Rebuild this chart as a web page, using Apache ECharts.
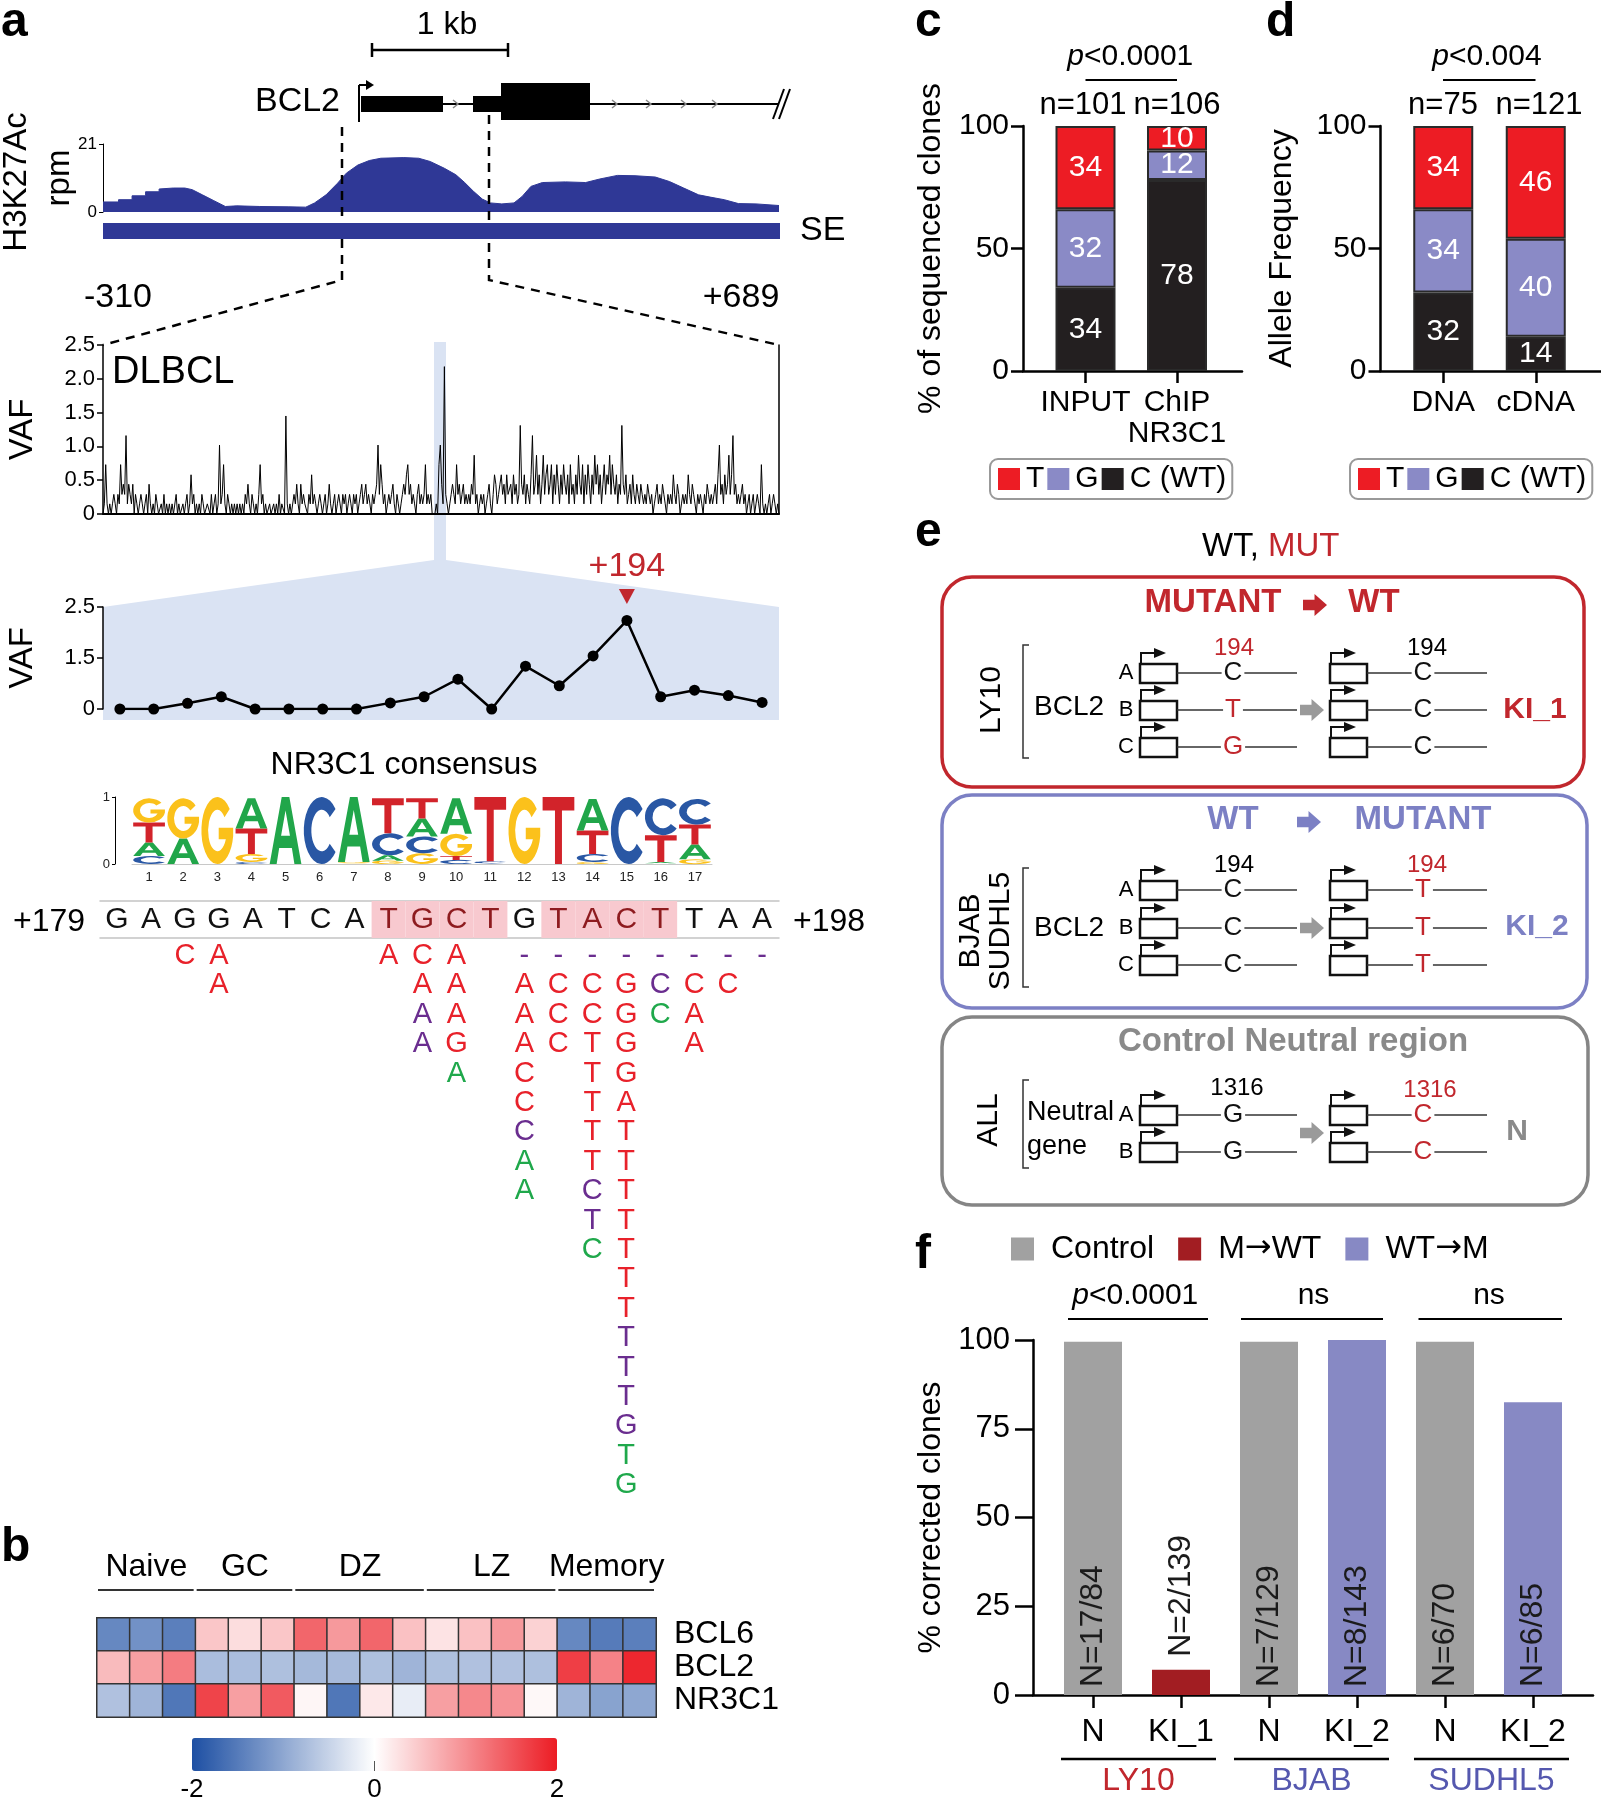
<!DOCTYPE html>
<html>
<head>
<meta charset="utf-8">
<script src="https://cdn.jsdelivr.net/npm/echarts@6.0.0/dist/echarts.min.js"></script>
<style>
html,body{margin:0;padding:0;background:#ffffff;}
#chart{width:1601px;height:1800px;}
</style>
</head>
<body>
<div id="chart"></div>
<script>
// ===================== DATA =====================
// Panel a – H3K27Ac track (relative position 0..1000 across the locus, rpm)
const h3kPos = [0,23,23,43,43,63,63,83,83,104,121,132,147,164,181,198,232,275,300,313,330,347,360,377,394,411,445,467,484,505,522,535,548,561,573,590,608,620,633,650,684,714,735,761,787,817,838,859,881,898,919,940,966,1000];
const h3kVal = [3.1,3.1,3.8,3.8,5.0,5.0,6.25,6.25,7.1,7.4,7.4,6.9,5.3,3.5,1.7,1.9,1.7,1.6,1.5,2.8,5.3,8.9,12,14.5,15.9,16.6,16.8,16.6,15.6,13.5,11.5,9.1,6.4,4.0,2.8,2.5,2.8,4.8,7.9,9.1,9.3,9.1,10.2,11.3,11.2,10.8,9.4,7.4,5.3,4.6,3.8,2.6,2.5,2.0];

// Panel a – DLBCL VAF profile, -310 .. +688 (2 bp steps)
const dlbclVaf = [
0,.15,.73,.15,0,.15,0,.15,.29,.15, 0,.29,.15,.73,.29,.44,.29,1.16,.15,.44, .29,.15,.44,0,.29,.15,0,.15,.29,.15, 0,.15,.29,0,.44,.15,0,.15,0,.29, .15,0,0,.15,0,.29,0,.15,0,.15,
0,.15,0,0,.29,0,.15,0,0,.15, 0,.15,.29,0,.15,.58,.15,.29,0,.15, 0,.15,0,.29,.15,0,0,.15,.15,0, .29,0,.15,.29,0,.15,1.02,.15,.29,.73, .15,0,.29,.15,0,.15,0,.15,0,.15,
0,.15,0,.15,0,.29,.15,.44,.15,0, .29,.15,0,.15,0,.29,.73,.15,.29,0, .15,0,0,.15,0,0,.15,0,.15,0, .29,0,.15,.15,0,1.45,.15,0,.15,0, 0,.29,.15,.44,.15,0,.44,.15,.29,.15,
.15,0,.29,.15,.58,.15,.29,.15,0,.15, .29,.15,0,.15,.29,0,.15,.44,.15,0, .15,.29,0,.15,.29,.15,0,.29,.15,.29, 0,.15,.29,.15,0,.29,.15,.29,0,.15, .29,.44,.15,.29,.44,.15,.29,.15,0,.29,
.15,.29,.44,1.02,.29,.73,.44,.15,.29,0, .15,.29,.15,.29,.44,.15,0,.29,.15,0, .15,.29,.44,.29,.58,.73,.29,.44,.15,.29, .15,0,.29,.44,.15,.29,.15,.29,.73,.15, .29,.15,.29,0,0,0,.15,0,.73,1.02,
.44,.15,2.18,.29,.15,0,.15,.29,.44,.29, .15,.73,.29,.44,.15,.29,.44,.15,.29,.15, .29,.15,.44,.29,.87,.15,.29,0,.15,.29, .15,.29,0,.15,.29,.44,.15,0,.29,.58, .44,.15,.29,.44,.58,.29,.44,.15,.58,.29,
.29,.44,.15,.58,.29,.44,.15,.29,1.31,.44, .29,.58,.15,.44,.29,.15,.58,1.16,.29,.44, .87,.29,.58,.15,.44,.87,.29,.58,.73,.29, .44,.73,.15,.58,.29,.73,.44,.15,.58,.29, .73,.44,.29,.58,.15,.73,.29,.44,.15,.58,
.29,.87,.44,.29,.73,.15,.58,.29,.73,.44, .15,.58,.29,.87,.44,.73,.29,.58,.15,.44, .73,.29,.58,.44,.87,.29,.73,.44,.29,.58, .15,.44,.29,1.31,.44,.29,.58,.15,.29,.44, .15,.58,.29,.15,.44,.29,.15,.44,.29,.15,
.29,.15,.44,.29,.15,.29,0,.15,.29,.44, .15,.29,.15,.44,.29,.15,0,.29,.15,.29, .15,.58,.29,.15,.44,.29,0,.15,.29,.15, .29,.15,.58,.29,.15,.44,.29,.15,0,.29, .15,.29,.15,0,.29,.15,.44,.29,.15,.29,
.15,.29,.44,.15,.58,1.02,.29,.44,.15,.58, .29,.44,.87,.29,.58,1.16,.29,.44,.15,.29, .15,.29,.44,.15,.29,0,.15,.29,0,.15, .29,0,.15,.29,.15,0,.73,.15,0,.15, 0,.15,.29,0,.15,.29,.15,0,.15,0
];

// Panel a – zoomed VAF, +179 .. +198
const seqPositions = ['+179','+180','+181','+182','+183','+184','+185','+186','+187','+188','+189','+190','+191','+192','+193','+194','+195','+196','+197','+198'];
const zoomVaf = [0,0,0.14,0.30,0,0,0,0,0.15,0.30,0.73,0,1.05,0.57,1.30,2.17,0.30,0.46,0.33,0.16];
const zoomTickLabels = ['0','1.5','2.5'];
const zoomMarkIndex = 15;

// NR3C1 consensus logo (probabilities per position 1..17)
const logoPositions = ['1','2','3','4','5','6','7','8','9','10','11','12','13','14','15','16','17'];
const logoA = [.20,.38,0,.45,1,0,.97,.08,.27,.53,.01,0,0,.47,0,.02,.22];
const logoC = [.12,0,0,.03,0,1,0,.33,.25,.06,.03,0,0,.12,1,.55,.38];
const logoG = [.36,.60,1,.12,0,0,.02,.05,.16,.33,0,1,0,.03,0,.01,.07];
const logoT = [.30,0,0,.38,0,0,.01,.52,.30,.06,.96,0,1,.35,0,.40,.30];

// Reference sequence and observed mutations
const seqLetters = ['G','A','G','G','A','T','C','A','T','G','C','T','G','T','A','C','T','T','A','A'];
const seqMotifHit = [0,0,0,0,0,0,0,0,1,1,1,1,0,1,1,1,1,0,0,0];
const mutPositions = ['+181','+182','+187','+188','+189','+191','+192','+193','+194','+195','+196','+197','+198'];
const mutLetters   = ['C','AA','A','CAAA','AAAGA','-AAACCCAA','-CCC','-CCTTTTTCTC','-GGGGATTTTTTTTTTGTG','-CC','-CAA','-C','-'];
const mutColors    = ['r','rr','r','rrpp','rrrrg','prrrrrpgg','prrr','prrrrrrrppg','prrrrrrrrrrrrppppgg','ppg','prrr','pr','p'];

// Panel b – heatmap (z-scores)
const heatGroupNames = ['Naive','GC','DZ','LZ','Memory'];
const heatGroupSizes = [3,3,4,4,3];
const heatCols = ['N1','N2','N3','GC1','GC2','GC3','DZ1','DZ2','DZ3','DZ4','LZ1','LZ2','LZ3','LZ4','M1','M2','M3'];
const heatGenes = ['BCL6','BCL2','NR3C1'];
const heatBCL6  = [-1.35,-1.25,-1.45,0.5,0.3,0.5,1.35,0.9,1.35,0.55,0.25,0.55,0.9,0.4,-1.35,-1.5,-1.45];
const heatBCL2  = [0.6,0.85,1.15,-0.75,-0.75,-0.72,-0.8,-0.78,-0.72,-0.85,-0.72,-0.7,-0.7,-0.72,1.7,1.1,1.9];
const heatNR3C1 = [-0.7,-0.85,-1.55,1.65,0.85,1.45,0.08,-1.55,0.2,-0.2,0.85,1.05,0.95,0.06,-0.85,-1.05,-1.0];

// Panel c
const cCats = ['INPUT','ChIP\nNR3C1'];
const cT = [34,10], cG = [32,12], cC = [34,78];
const cN = ['n=101','n=106'];
// Panel d
const dCats = ['DNA','cDNA'];
const dT = [34,46], dG = [34,40], dC = [32,14];
const dN = ['n=75','n=121'];
// Panel f
const fCats = ['N','KI_1','N','KI_2','N','KI_2'];
const fControl = [99.5,'-',99.5,'-',99.5,'-'];
const fMtoWT   = ['-',7.1,'-','-','-','-'];
const fWTtoM   = ['-','-','-',100,'-',82.5];
const fLabels  = ['N=17/84','N=2/139','N=7/129','N=8/143','N=6/70','N=6/85'];
const fGroups  = ['LY10','BJAB','SUDHL5'];

// ===================== STYLE HELPERS =====================
const FONT = "'Liberation Sans', Arial, Helvetica, sans-serif";
const RED = '#ED1C24', LAV = '#8A8AC6', BLK = '#231F20';
const DRED = '#C1272D', BLUE = '#7C80C4';
const MUTCOL = {r:'#E8212A', p:'#6A2D8F', g:'#1FA84B'};
const LOGOCOL = ['#21A64A','#2957A4','#FBC11B','#D2232A'];
const LOGOPATH = [
 'M0,100 L38,0 L62,0 L100,100 L78,100 L70,76 L30,76 L22,100 Z M36,58 L64,58 L50,20 Z',
 'M88.3,17.9 A50,50 0 1,0 88.3,82.1 L72.2,69.9 A29,31 0 1,1 72.2,30.1 Z',
 'M88.3,17.9 A50,50 0 1,0 99.2,58.7 L99.2,46 L54,46 L54,63 L76.3,63 A29,31 0 1,1 72.2,30.1 Z',
 'M0,0 L100,0 L100,20 L61,20 L61,100 L39,100 L39,20 L0,20 Z'
];
function fnt(size, weight, style){ return (style||'normal')+' '+(weight||'normal')+' '+size+'px '+FONT; }
function T(x, y, text, size, o){
  o = Object.assign({fill:'#000', align:'center', v:'middle', weight:'normal', style:'normal', rot:0, z:20}, o||{});
  const el = {type:'text', x:x, y:y, rotation:o.rot, z:o.z, silent:true,
    style:{text:text, fill:o.fill, font:fnt(size,o.weight,o.style), textAlign:o.align, textVerticalAlign:o.v, align:o.align, verticalAlign:o.v}};
  if (o.bg){ el.style.backgroundColor = o.bg; el.style.padding = [0,2]; }
  return el;
}
function L(x1,y1,x2,y2,w,c,dash){ const e={type:'line', silent:true, z:15, shape:{x1:x1,y1:y1,x2:x2,y2:y2}, style:{stroke:c||'#000', lineWidth:w||2}}; if(dash) e.style.lineDash=dash; return e; }
function PL(pts,w,c,dash){ const e={type:'polyline', silent:true, z:15, shape:{points:pts}, style:{stroke:c||'#000', lineWidth:w||2, fill:null}}; if(dash) e.style.lineDash=dash; return e; }
function PG(pts,c,z){ return {type:'polygon', silent:true, z:(z===undefined?15:z), shape:{points:pts}, style:{fill:c}}; }
function R(x,y,w,h,fill,stroke,lw,r,z){ return {type:'rect', silent:true, z:(z===undefined?15:z), shape:{x:x,y:y,width:w,height:h,r:r||0}, style:{fill:fill, stroke:stroke||null, lineWidth:lw||0}}; }

const grid=[], xAxis=[], yAxis=[], series=[], G=[];
function addGrid(b){ grid.push(Object.assign({containLabel:false, outerBoundsMode:'none'}, b)); return grid.length-1; }
function addX(c){ xAxis.push(c); return xAxis.length-1; }
function addY(c){ yAxis.push(c); return yAxis.length-1; }
const noSplit = {show:false};
const HIDDEN = 'rgba(0,0,0,0)';

// ===================== PANEL a =====================
const gH = addGrid({left:103, top:144, width:676, height:68});
const xH = addX({gridIndex:gH, type:'value', min:0, max:1000, show:false});
const yH = addY({gridIndex:gH, type:'value', min:0, max:21, interval:21, splitLine:noSplit,
  axisLine:{show:true, lineStyle:{color:'#000', width:1}}, axisTick:{show:true, length:4, lineStyle:{color:'#000'}},
  axisLabel:{fontSize:17, margin:6, color:'#000'}});
series.push({type:'line', xAxisIndex:xH, yAxisIndex:yH, data:h3kPos.map((p,i)=>[p,h3kVal[i]]), symbol:'none', silent:true,
  lineStyle:{color:'#2F3896', width:1}, areaStyle:{color:'#2F3896', opacity:1}});

const vafCats = dlbclVaf.map((_, i) => String(-310 + 2*i));
const gD = addGrid({left:103, top:345, width:676, height:169});
const xD = addX({gridIndex:gD, type:'category', data:vafCats, boundaryGap:false, axisLine:{show:true, lineStyle:{color:'#000', width:2}}, axisTick:{show:false}, axisLabel:{show:false}});
const yD = addY({gridIndex:gD, type:'value', min:0, max:2.5, interval:0.5, splitLine:noSplit,
  axisLine:{show:true, lineStyle:{color:'#000', width:1.5}}, axisTick:{show:true, length:6, lineStyle:{color:'#000', width:1.5}},
  axisLabel:{fontSize:22, margin:8, color:'#000', formatter:v => v===0 ? '0' : v.toFixed(1)},
  name:'VAF', nameLocation:'middle', nameRotate:90, nameGap:64, nameTextStyle:{fontSize:33, color:'#000'}});
addY({gridIndex:gD, type:'value', position:'right', min:0, max:2.5, splitLine:noSplit, axisLine:{show:true, lineStyle:{color:'#000', width:1.5}}, axisTick:{show:false}, axisLabel:{show:false}});
series.push({type:'line', xAxisIndex:xD, yAxisIndex:yD, data:dlbclVaf, symbol:'none', silent:true, lineStyle:{color:'#000', width:1}});

const gZ = addGrid({left:103, top:607, width:676, height:102});
const xZ = addX({gridIndex:gZ, type:'category', data:seqPositions, boundaryGap:true, show:false});
const yZ = addY({gridIndex:gZ, type:'value', min:0, max:2.5, interval:1.25, splitLine:noSplit,
  axisLine:{show:true, lineStyle:{color:'#000', width:1.5}}, axisTick:{show:true, length:6, lineStyle:{color:'#000', width:1.5}},
  axisLabel:{fontSize:22, margin:8, color:'#000', formatter:v => zoomTickLabels[Math.round(v/1.25)] || ''},
  name:'VAF', nameLocation:'middle', nameRotate:90, nameGap:64, nameTextStyle:{fontSize:33, color:'#000'}});
series.push({type:'line', xAxisIndex:xZ, yAxisIndex:yZ, data:zoomVaf, symbol:'circle', symbolSize:11, silent:true, z:5,
  itemStyle:{color:'#000'}, lineStyle:{color:'#000', width:2.5},
  markPoint:{symbol:'triangle', symbolSize:[16,15], symbolRotate:180, symbolOffset:[0,-24], silent:true,
    itemStyle:{color:DRED}, label:{show:true, position:'top', distance:5, formatter:seqPositions[zoomMarkIndex], color:DRED, fontSize:34},
    data:[{coord:[zoomMarkIndex, zoomVaf[zoomMarkIndex]]}]}});

const logoData = [];
for (let k=0;k<logoPositions.length;k++){
  const items = [[0,logoA[k]],[1,logoC[k]],[2,logoG[k]],[3,logoT[k]]].filter(d=>d[1]>0).sort((a,b)=>a[1]-b[1]);
  let base = 0;
  items.forEach(d => { logoData.push([k, base, base+d[1], d[0]]); base += d[1]; });
}
const gL = addGrid({left:132, top:797, width:580, height:67});
const xL = addX({gridIndex:gL, type:'category', data:logoPositions, boundaryGap:true, axisLine:{show:true, lineStyle:{color:'#C8C8C8', width:1}}, axisTick:{show:false}, axisLabel:{fontSize:13, margin:7, color:'#222', interval:0}});
const yL = addY({gridIndex:gL, type:'value', min:0, max:1, interval:1, offset:17, splitLine:noSplit,
  axisLine:{show:true, lineStyle:{color:'#000', width:1}}, axisTick:{show:true, length:3, lineStyle:{color:'#000'}}, axisLabel:{fontSize:13, margin:5, color:'#222'}});
series.push({type:'custom', xAxisIndex:xL, yAxisIndex:yL, data:logoData, encode:{x:0, y:[1,2]}, silent:true,
  renderItem:function(params, api){
    const col = api.value(0), y0 = api.value(1), y1 = api.value(2), li = api.value(3);
    const pb = api.coord([col, y0]), pt = api.coord([col, y1]);
    const w = api.size([1,0])[0]*0.93, h = pb[1]-pt[1];
    if (h < 0.8) return null;
    return {type:'path', shape:{pathData:LOGOPATH[li], x:pb[0]-w/2, y:pt[1], width:w, height:h, layout:'cover'}, style:{fill:LOGOCOL[li]}};
  }});

const gS = addGrid({left:100, top:901, width:679, height:37});
const xS = addX({gridIndex:gS, type:'category', data:seqPositions, boundaryGap:true, axisLine:{show:true, lineStyle:{color:'#C4C4C4', width:1.5}}, axisTick:{show:false}, axisLabel:{show:false}});
addX({gridIndex:gS, type:'category', position:'top', data:seqPositions, boundaryGap:true, axisLine:{show:true, lineStyle:{color:'#C4C4C4', width:1.5}}, axisTick:{show:false}, axisLabel:{show:false}});
const yS = addY({gridIndex:gS, type:'value', min:0, max:1, show:false});
series.push({type:'bar', xAxisIndex:xS, yAxisIndex:yS, data:seqMotifHit.map(v => v ? 1 : '-'), barWidth:'100%', silent:true, itemStyle:{color:'#F8C9CF'}});
series.push({type:'scatter', xAxisIndex:xS, yAxisIndex:yS, silent:true, symbolSize:2, itemStyle:{color:HIDDEN, opacity:1}, z:6,
  data:seqLetters.map((l,i)=>({value:[i,0.5], label:{color: seqMotifHit[i] ? '#8E1B1F' : '#111'}})),
  label:{show:true, position:'inside', fontSize:30, opacity:1, formatter:p => seqLetters[p.dataIndex]}, labelLayout:{hideOverlap:false}});

const mutData = [], mutText = [];
mutPositions.forEach((pos, j) => {
  const col = seqPositions.indexOf(pos);
  for (let r=0; r<mutLetters[j].length; r++){
    mutData.push({value:[col, r+1], label:{color:MUTCOL[mutColors[j][r]]}});
    mutText.push(mutLetters[j][r]);
  }
});
const gM = addGrid({left:100, top:941.3, width:679, height:558.6});
const xM = addX({gridIndex:gM, type:'category', data:seqPositions, boundaryGap:true, show:false});
const yM = addY({gridIndex:gM, type:'value', min:0.5, max:19.5, inverse:true, show:false});
series.push({type:'scatter', xAxisIndex:xM, yAxisIndex:yM, silent:true, symbolSize:2, itemStyle:{color:HIDDEN, opacity:1}, data:mutData, z:6,
  label:{show:true, position:'inside', fontSize:29, opacity:1, formatter:p => mutText[p.dataIndex]}, labelLayout:{hideOverlap:false}});

// ===================== PANEL b =====================
const heatVals = [heatBCL6, heatBCL2, heatNR3C1];
const heatData = [];
heatVals.forEach((row, gi) => row.forEach((v, ci) => heatData.push([ci, gi, v])));
const gB = addGrid({left:97, top:1618, width:559, height:99, show:true, borderColor:'#2a2a2a', borderWidth:2, backgroundColor:'transparent'});
const xB = addX({gridIndex:gB, type:'category', data:heatCols, show:false});
const yB = addY({gridIndex:gB, type:'category', data:heatGenes, inverse:true, position:'right', axisLine:{show:false}, axisTick:{show:false}, axisLabel:{fontSize:32, margin:18, color:'#000', interval:0}});
const heatSeriesIndex = series.length;
series.push({type:'heatmap', xAxisIndex:xB, yAxisIndex:yB, data:heatData, silent:true, itemStyle:{borderColor:'#333', borderWidth:1.5}, emphasis:{disabled:true}});

// ===================== PANEL c / d =====================
function stackedPanel(frameLeft, frameWidth, barLeft, barWidth, cats, vC, vG, vT, yName, gap, stackId){
  const gf = addGrid({left:frameLeft, top:126, width:frameWidth, height:245});
  addX({gridIndex:gf, type:'value', min:0, max:1, splitLine:noSplit, axisLine:{show:true, onZero:false, lineStyle:{color:'#000', width:2.5}}, axisTick:{show:false}, axisLabel:{show:false}});
  addY({gridIndex:gf, type:'value', min:0, max:100, interval:50, splitLine:noSplit,
    axisLine:{show:true, lineStyle:{color:'#000', width:2.5}}, axisTick:{show:true, length:12, lineStyle:{color:'#000', width:2.5}},
    axisLabel:{fontSize:30, margin:14, color:'#000'},
    name:yName, nameLocation:'middle', nameRotate:90, nameGap:gap, nameTextStyle:{fontSize:32, color:'#000'}});
  const gb = addGrid({left:barLeft, top:126, width:barWidth, height:245});
  const xb = addX({gridIndex:gb, type:'category', data:cats, axisLine:{show:false}, axisTick:{show:true, length:12, alignWithLabel:true, lineStyle:{color:'#000', width:2.5}},
    axisLabel:{fontSize:30, margin:16, lineHeight:31, color:'#000', interval:0}});
  const yb = addY({gridIndex:gb, type:'value', min:0, max:100, show:false});
  const lab = {show:true, position:'inside', color:'#fff', fontSize:30, formatter:p => p.value};
  [['C (WT)', vC, BLK], ['G', vG, LAV], ['T', vT, RED]].forEach(s => {
    series.push({type:'bar', name:s[0], stack:stackId, xAxisIndex:xb, yAxisIndex:yb, data:s[1], barWidth:60, silent:true,
      itemStyle:{color:s[2], borderColor:'#2a2a2a', borderWidth:2}, label:lab});
  });
}
stackedPanel(1023, 219, 1039.75, 183, cCats, cC, cG, cT, '% of sequenced clones', 76, 'c');
stackedPanel(1380.5, 220.5, 1397, 185, dCats, dC, dG, dT, 'Allele Frequency', 82, 'd');

// ===================== PANEL f =====================
const gFf = addGrid({left:1033, top:1340, width:560, height:355});
addX({gridIndex:gFf, type:'value', min:0, max:1, splitLine:noSplit, axisLine:{show:true, lineStyle:{color:'#000', width:2.5}}, axisTick:{show:false}, axisLabel:{show:false}});
addY({gridIndex:gFf, type:'value', min:0, max:100, interval:25, splitLine:noSplit,
  axisLine:{show:true, lineStyle:{color:'#000', width:2.5}}, axisTick:{show:true, length:18, lineStyle:{color:'#000', width:2.5}},
  axisLabel:{fontSize:31, margin:23, color:'#000'},
  name:'% corrected clones', nameLocation:'middle', nameRotate:90, nameGap:86, nameTextStyle:{fontSize:32, color:'#000'}});
const gFb = addGrid({left:1049, top:1340, width:528, height:355});
const xFb = addX({gridIndex:gFb, type:'category', data:fCats, axisLine:{show:false}, axisTick:{show:true, length:13, alignWithLabel:true, lineStyle:{color:'#000', width:2.5}},
  axisLabel:{fontSize:32, margin:21, color:'#000', interval:0}});
const yFb = addY({gridIndex:gFb, type:'value', min:0, max:100, show:false});
const fInside = {show:true, formatter:p => fLabels[p.dataIndex], position:'insideBottom', rotate:90, align:'left', verticalAlign:'middle', distance:8, fontSize:32, color:'#1b1b1b'};
const fTop = {show:true, formatter:p => fLabels[p.dataIndex], position:'top', rotate:90, align:'left', verticalAlign:'middle', distance:13, fontSize:32, color:'#1b1b1b'};
series.push({type:'bar', name:'Control', stack:'f', xAxisIndex:xFb, yAxisIndex:yFb, data:fControl, barWidth:58, silent:true, itemStyle:{color:'#A1A1A1'}, label:fInside});
series.push({type:'bar', name:'M→WT', stack:'f', xAxisIndex:xFb, yAxisIndex:yFb, data:fMtoWT, barWidth:58, silent:true, itemStyle:{color:'#A21D22'}, label:fTop});
series.push({type:'bar', name:'WT→M', stack:'f', xAxisIndex:xFb, yAxisIndex:yFb, data:fWTtoM, barWidth:58, silent:true, itemStyle:{color:'#8789C4'}, label:fInside});

// ===================== GRAPHICS (annotations) =====================
G.push(T(1,23,'a',48,{align:'left', weight:'bold'}));
G.push(T(1,1548,'b',48,{align:'left', weight:'bold'}));
G.push(T(915,23,'c',48,{align:'left', weight:'bold'}));
G.push(T(1266,23,'d',48,{align:'left', weight:'bold'}));
G.push(T(915,533,'e',48,{align:'left', weight:'bold'}));
G.push(T(915,1255,'f',48,{align:'left', weight:'bold'}));

G.push(T(17,182,'H3K27Ac',33,{rot:Math.PI/2}));
G.push(T(60,178,'rpm',33,{rot:Math.PI/2}));

G.push(L(372,50,508,50,2.5)); G.push(L(372,43,372,57,2.5)); G.push(L(508,43,508,57,2.5));
G.push(T(447,25,'1 kb',32));
G.push(T(340,102,'BCL2',34,{align:'right'}));
G.push(L(361,104,779,104,2));
G.push(L(359,85,359,122,2));
G.push(L(359,85,367,85,2));
G.push(PG([[366,80],[374,85],[366,90]],'#000'));
G.push(R(361,96,82,16,'#000'));
G.push(R(473,96,28,16,'#000'));
G.push(R(501,83,89,37,'#000'));
[456,615,649,684,715].forEach(x => G.push(PL([[x-3,100],[x+2,104],[x-3,108]],1.5,'#888')));
G.push(L(773,119,784,89,2)); G.push(L(779,119,790,89,2));
G.push(PL([[342,127],[342,280],[103,345]],2.5,'#000',[9,7]));
G.push(PL([[489,115],[489,280],[779,345]],2.5,'#000',[9,7]));
G.push(R(103,223,677,16,'#2F3896'));
G.push(T(800,231,'SE',34,{align:'left'}));
G.push(T(118,298,'-310',34));
G.push(T(741,298,'+689',34));
G.push(T(112,373,'DLBCL',38,{align:'left'}));
G.push(PG([[434,342],[446,342],[446,560],[779,607],[779,720],[103,720],[103,607],[434,560]],'#DAE3F3',0));
G.push(T(404,765,'NR3C1 consensus',32));
G.push(T(49,922,'+179',32));
G.push(T(829,922,'+198',32));

(function(){
  const colW = 559/17; let start = 0;
  heatGroupNames.forEach((nm, i) => {
    const x0 = 97 + start*colW, x1 = x0 + heatGroupSizes[i]*colW;
    G.push(T((x0+x1)/2, 1567, nm, 32));
    G.push(L(x0+1, 1590, x1-2, 1590, 2, '#333'));
    start += heatGroupSizes[i];
  });
})();
G.push(T(192,1790,'-2',26)); G.push(T(374.5,1790,'0',26)); G.push(T(557,1790,'2',26));
G.push(L(374.5,1761,374.5,1771,1,'#555'));

G.push(T(1084,57,'p',30,{align:'right', style:'italic'})); G.push(T(1084,57,'<0.0001',30,{align:'left'}));
G.push(L(1085.5,80,1177,80,2));
G.push(T(1083,105,cN[0],31)); G.push(T(1177,105,cN[1],31));
G.push(T(1449,57,'p',30,{align:'right', style:'italic'})); G.push(T(1449,57,'<0.004',30,{align:'left'}));
G.push(L(1443,80,1535.5,80,2));
G.push(T(1443,105,dN[0],31)); G.push(T(1539,105,dN[1],31));

// ---- panel e diagram ----
G.push(T(1202,547,'WT,',33,{align:'left'}));
G.push(T(1268,547,'MUT',33,{align:'left', fill:DRED}));
G.push(R(942,577,642,210,'transparent',DRED,3.5,30));
G.push(R(942,795,645,213,'transparent',BLUE,3.5,30));
G.push(R(942,1017,646,188,'transparent','#858585',3.5,30));
function blockArrow(x, y, w, h, color){
  const sh = h*0.48, hx = x + w*0.48;
  G.push(PG([[x,y-sh/2],[hx,y-sh/2],[hx,y-h/2],[x+w,y],[hx,y+h/2],[hx,y+sh/2],[x,y+sh/2]], color));
}
function geneRow(xBox, y, letter, color){
  G.push(R(xBox, y-9, 37, 19, '#fff', '#111', 2.5));
  G.push(PL([[xBox+1,y-9],[xBox+1,y-20],[xBox+15,y-20]],2,'#111'));
  G.push(PG([[xBox+14,y-25],[xBox+26,y-20],[xBox+14,y-15]],'#111'));
  G.push(L(xBox+37, y, xBox+157, y, 1.5, '#333'));
  G.push(T(xBox+93, y, letter, 26, {fill:color, bg:'#fff'}));
}
function bracket(top, bot){ G.push(PL([[1029,top],[1023,top],[1023,bot],[1029,bot]],1.5,'#333')); }
G.push(T(1213,603,'MUTANT',33,{weight:'bold', fill:DRED}));
blockArrow(1303,605,24,22,DRED);
G.push(T(1374,603,'WT',33,{weight:'bold', fill:DRED}));
G.push(T(992,700,'LY10',30,{rot:Math.PI/2}));
bracket(645,758);
G.push(T(1069,707,'BCL2',28));
G.push(T(1234,648,'194',24,{fill:DRED})); G.push(T(1427,648,'194',24));
[['A',673,'C','#111','C'],['B',710,'T',DRED,'C'],['C',747,'G',DRED,'C']].forEach(r => {
  G.push(T(1126,r[1],r[0],22)); geneRow(1140,r[1],r[2],r[3]); geneRow(1330,r[1],r[4],'#111');
});
blockArrow(1300,710,24,22,'#9A9A9A');
G.push(T(1535,710,'KI_1',30,{weight:'bold', fill:DRED}));
G.push(T(1233,820,'WT',33,{weight:'bold', fill:BLUE}));
blockArrow(1297,822,24,22,BLUE);
G.push(T(1423,820,'MUTANT',33,{weight:'bold', fill:BLUE}));
G.push(T(971,931,'BJAB',30,{rot:Math.PI/2}));
G.push(T(1001,931,'SUDHL5',30,{rot:Math.PI/2}));
bracket(868,987);
G.push(T(1069,928,'BCL2',28));
G.push(T(1234,865,'194',24)); G.push(T(1427,865,'194',24,{fill:DRED}));
[['A',890],['B',928],['C',965]].forEach(r => {
  G.push(T(1126,r[1],r[0],22)); geneRow(1140,r[1],'C','#111'); geneRow(1330,r[1],'T',DRED);
});
blockArrow(1300,928,24,22,'#9A9A9A');
G.push(T(1537,927,'KI_2',30,{weight:'bold', fill:BLUE}));
G.push(T(1293,1042,'Control Neutral region',33,{weight:'bold', fill:'#8A8A8A'}));
G.push(T(989,1120,'ALL',30,{rot:Math.PI/2}));
bracket(1080,1168);
G.push(T(1027,1113,'Neutral',27,{align:'left'}));
G.push(T(1027,1147,'gene',27,{align:'left'}));
G.push(T(1237,1088,'1316',24)); G.push(T(1430,1090,'1316',24,{fill:DRED}));
[['A',1115],['B',1152]].forEach(r => {
  G.push(T(1126,r[1],r[0],22)); geneRow(1140,r[1],'G','#111'); geneRow(1330,r[1],'C',DRED);
});
blockArrow(1300,1133,24,22,'#9A9A9A');
G.push(T(1517,1132,'N',30,{weight:'bold', fill:'#8A8A8A'}));

G.push(T(1089,1296,'p',30,{align:'right', style:'italic'})); G.push(T(1089,1296,'<0.0001',30,{align:'left'}));
G.push(L(1068,1319,1208,1319,2));
G.push(T(1313.5,1296,'ns',30)); G.push(L(1241,1319,1383,1319,2));
G.push(T(1489,1296,'ns',30)); G.push(L(1418.5,1319,1562,1319,2));
[[1061,1216,DRED],[1234,1389,'#5558AF'],[1414,1569,'#5558AF']].forEach((g,i) => {
  G.push(L(g[0],1759,g[1],1759,2.5));
  G.push(T((g[0]+g[1])/2,1781,fGroups[i],32,{fill:g[2]}));
});

// ===================== OPTION =====================
const legendBase = {orient:'horizontal', icon:'rect', selectedMode:false, itemStyle:{borderWidth:0}};
const boxLegend = {padding:[5,6,5,8], itemGap:3, itemWidth:22, itemHeight:22, width:240,
  borderColor:'#999', borderWidth:2, borderRadius:8, textStyle:{fontSize:30, color:'#000', padding:[0,0,0,1], lineHeight:30}};
const option = {
  animation:false,
  backgroundColor:'#ffffff',
  textStyle:{fontFamily:FONT, color:'#000'},
  grid:grid, xAxis:xAxis, yAxis:yAxis, series:series,
  visualMap:[{type:'continuous', min:-2, max:2, seriesIndex:heatSeriesIndex, orient:'horizontal', left:192, top:1738,
    itemWidth:33, itemHeight:365, calculable:false, text:null, padding:0, hoverLink:false,
    inRange:{color:['#1D4FA3','#FFFFFF','#EC1C24']}}],
  legend:[
    Object.assign({}, legendBase, boxLegend, {data:['T','G','C (WT)'], left:990, top:459}),
    Object.assign({}, legendBase, boxLegend, {data:['T','G','C (WT)'], left:1350, top:459}),
    Object.assign({}, legendBase, {data:['Control','M→WT','WT→M'], left:1011, top:1233, padding:0, itemGap:24, itemWidth:23, itemHeight:23,
      formatter: nm => nm.replace('→', '{ar|→}'),
      textStyle:{fontSize:32, color:'#000', padding:[0,0,0,12], rich:{ar:{fontSize:32, fontFamily:"'DejaVu Sans', sans-serif", color:'#000'}}}})
  ],
  graphic:{elements:G}
};
const chart = echarts.init(document.getElementById('chart'), null, {renderer:'canvas', width:1601, height:1800});
chart.setOption(option);
</script>
</body>
</html>
